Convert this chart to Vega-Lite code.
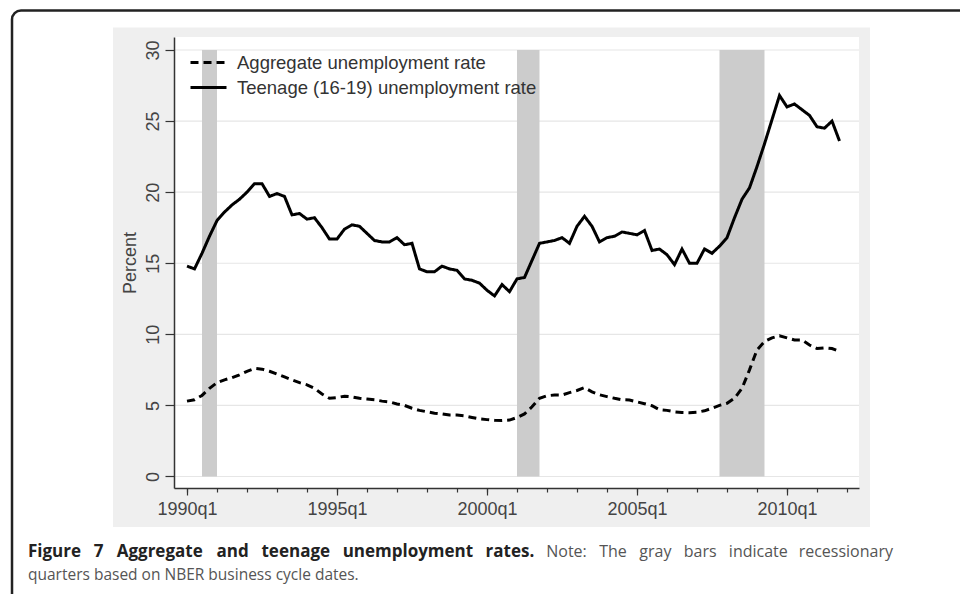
{
  "$schema": "https://vega.github.io/schema/vega-lite/v6.json",
  "width": 685,
  "height": 451,
  "autosize": {"type": "none"},
  "padding": {"left": 174, "top": 37, "right": 101, "bottom": 106},
  "background": "white",
  "config": {"view": {"stroke": null}, "font": "Liberation Sans"},
  "resolve": {"axis": {"x": "independent"}},
  "datasets": {
    "rates": [
      {"t": 1990.0, "aggregate": 5.3, "teenage": 14.8},
      {"t": 1990.25, "aggregate": 5.4, "teenage": 14.6},
      {"t": 1990.5, "aggregate": 5.7, "teenage": 15.7},
      {"t": 1990.75, "aggregate": 6.2, "teenage": 16.9},
      {"t": 1991.0, "aggregate": 6.6, "teenage": 18.0},
      {"t": 1991.25, "aggregate": 6.8, "teenage": 18.6},
      {"t": 1991.5, "aggregate": 6.95, "teenage": 19.1},
      {"t": 1991.75, "aggregate": 7.15, "teenage": 19.5},
      {"t": 1992.0, "aggregate": 7.4, "teenage": 20.0},
      {"t": 1992.25, "aggregate": 7.6, "teenage": 20.6},
      {"t": 1992.5, "aggregate": 7.55, "teenage": 20.6},
      {"t": 1992.75, "aggregate": 7.4, "teenage": 19.7},
      {"t": 1993.0, "aggregate": 7.2, "teenage": 19.9},
      {"t": 1993.25, "aggregate": 7.0, "teenage": 19.7},
      {"t": 1993.5, "aggregate": 6.8, "teenage": 18.4},
      {"t": 1993.75, "aggregate": 6.6, "teenage": 18.5},
      {"t": 1994.0, "aggregate": 6.45, "teenage": 18.1},
      {"t": 1994.25, "aggregate": 6.2, "teenage": 18.2},
      {"t": 1994.5, "aggregate": 5.8, "teenage": 17.5},
      {"t": 1994.75, "aggregate": 5.5, "teenage": 16.7},
      {"t": 1995.0, "aggregate": 5.55, "teenage": 16.7},
      {"t": 1995.25, "aggregate": 5.65, "teenage": 17.4},
      {"t": 1995.5, "aggregate": 5.6, "teenage": 17.7},
      {"t": 1995.75, "aggregate": 5.5, "teenage": 17.6},
      {"t": 1996.0, "aggregate": 5.45, "teenage": 17.1},
      {"t": 1996.25, "aggregate": 5.4, "teenage": 16.6},
      {"t": 1996.5, "aggregate": 5.3, "teenage": 16.5},
      {"t": 1996.75, "aggregate": 5.25, "teenage": 16.5},
      {"t": 1997.0, "aggregate": 5.1, "teenage": 16.8},
      {"t": 1997.25, "aggregate": 5.0, "teenage": 16.3},
      {"t": 1997.5, "aggregate": 4.8, "teenage": 16.4},
      {"t": 1997.75, "aggregate": 4.65, "teenage": 14.6},
      {"t": 1998.0, "aggregate": 4.55, "teenage": 14.4},
      {"t": 1998.25, "aggregate": 4.45, "teenage": 14.4},
      {"t": 1998.5, "aggregate": 4.4, "teenage": 14.8},
      {"t": 1998.75, "aggregate": 4.32, "teenage": 14.6},
      {"t": 1999.0, "aggregate": 4.32, "teenage": 14.5},
      {"t": 1999.25, "aggregate": 4.26, "teenage": 13.9},
      {"t": 1999.5, "aggregate": 4.15, "teenage": 13.8},
      {"t": 1999.75, "aggregate": 4.05, "teenage": 13.6},
      {"t": 2000.0, "aggregate": 4.0, "teenage": 13.1},
      {"t": 2000.25, "aggregate": 3.95, "teenage": 12.7},
      {"t": 2000.5, "aggregate": 3.93, "teenage": 13.5},
      {"t": 2000.75, "aggregate": 3.97, "teenage": 13.0},
      {"t": 2001.0, "aggregate": 4.15, "teenage": 13.9},
      {"t": 2001.25, "aggregate": 4.4, "teenage": 14.0},
      {"t": 2001.5, "aggregate": 4.9, "teenage": 15.2},
      {"t": 2001.75, "aggregate": 5.5, "teenage": 16.4},
      {"t": 2002.0, "aggregate": 5.68, "teenage": 16.5},
      {"t": 2002.25, "aggregate": 5.73, "teenage": 16.6},
      {"t": 2002.5, "aggregate": 5.73, "teenage": 16.8},
      {"t": 2002.75, "aggregate": 5.9, "teenage": 16.4},
      {"t": 2003.0, "aggregate": 6.05, "teenage": 17.6},
      {"t": 2003.25, "aggregate": 6.25, "teenage": 18.3},
      {"t": 2003.5, "aggregate": 5.95, "teenage": 17.6},
      {"t": 2003.75, "aggregate": 5.75, "teenage": 16.5},
      {"t": 2004.0, "aggregate": 5.62, "teenage": 16.8},
      {"t": 2004.25, "aggregate": 5.5, "teenage": 16.9},
      {"t": 2004.5, "aggregate": 5.4, "teenage": 17.2},
      {"t": 2004.75, "aggregate": 5.38, "teenage": 17.1},
      {"t": 2005.0, "aggregate": 5.25, "teenage": 17.0},
      {"t": 2005.25, "aggregate": 5.12, "teenage": 17.3},
      {"t": 2005.5, "aggregate": 4.98, "teenage": 15.9},
      {"t": 2005.75, "aggregate": 4.7, "teenage": 16.0},
      {"t": 2006.0, "aggregate": 4.65, "teenage": 15.6},
      {"t": 2006.25, "aggregate": 4.55, "teenage": 14.9},
      {"t": 2006.5, "aggregate": 4.5, "teenage": 16.0},
      {"t": 2006.75, "aggregate": 4.49, "teenage": 15.0},
      {"t": 2007.0, "aggregate": 4.52, "teenage": 15.0},
      {"t": 2007.25, "aggregate": 4.62, "teenage": 16.0},
      {"t": 2007.5, "aggregate": 4.8, "teenage": 15.7},
      {"t": 2007.75, "aggregate": 5.0, "teenage": 16.2},
      {"t": 2008.0, "aggregate": 5.15, "teenage": 16.8},
      {"t": 2008.25, "aggregate": 5.5, "teenage": 18.2},
      {"t": 2008.5, "aggregate": 6.2, "teenage": 19.5},
      {"t": 2008.75, "aggregate": 7.5, "teenage": 20.3},
      {"t": 2009.0, "aggregate": 8.9, "teenage": 21.8},
      {"t": 2009.25, "aggregate": 9.5, "teenage": 23.4},
      {"t": 2009.5, "aggregate": 9.75, "teenage": 25.1},
      {"t": 2009.75, "aggregate": 9.9, "teenage": 26.8},
      {"t": 2010.0, "aggregate": 9.75, "teenage": 26.0},
      {"t": 2010.25, "aggregate": 9.6, "teenage": 26.2},
      {"t": 2010.5, "aggregate": 9.6, "teenage": 25.8},
      {"t": 2010.75, "aggregate": 9.25, "teenage": 25.4},
      {"t": 2011.0, "aggregate": 9.0, "teenage": 24.6},
      {"t": 2011.25, "aggregate": 9.05, "teenage": 24.5},
      {"t": 2011.5, "aggregate": 9.0, "teenage": 25.0},
      {"t": 2011.75, "aggregate": 8.8, "teenage": 23.6}
    ],
    "recessions": [
      {"start": 1990.5, "end": 1991.0},
      {"start": 2001.0, "end": 2001.75},
      {"start": 2007.75, "end": 2009.25}
    ],
    "gridlines": [{"y": 0}, {"y": 5}, {"y": 10}, {"y": 15}, {"y": 20}, {"y": 25}, {"y": 30}],
    "one": [{"k": 1}]
  },
  "layer": [
    {
      "data": {"name": "one"},
      "mark": {"type": "rect", "fill": "#EFEFEF", "stroke": null},
      "encoding": {
        "x": {
          "datum": 1987.533, "type": "quantitative",
          "scale": {"domain": [1989.5667, 2012.4], "nice": false, "zero": false},
          "axis": {
            "orient": "bottom",
            "title": null,
            "values": [1990, 1995, 2000, 2005, 2010],
            "labelExpr": "datum.value + 'q1'",
            "tickSize": 7,
            "grid": false,
            "labelFont": "Liberation Sans",
            "labelFontSize": 18,
            "labelColor": "#444444",
            "labelPadding": 5,
            "labelOverlap": false,
            "labelFlush": false,
            "domainColor": "#333333",
            "domainWidth": 1.5,
            "tickColor": "#333333",
            "tickWidth": 1.2,
            "zindex": 1
          }
        },
        "x2": {"datum": 2012.767},
        "y": {
          "datum": 31.585, "type": "quantitative",
          "scale": {"domain": [-0.81, 30.914], "nice": false, "zero": false},
          "axis": {
            "title": "Percent",
            "values": [0, 5, 10, 15, 20, 25, 30],
            "grid": false,
            "labelAngle": -90,
            "labelAlign": "center",
            "labelBaseline": "alphabetic",
            "labelFont": "Liberation Sans",
            "labelFontSize": 18,
            "labelColor": "#444444",
            "labelPadding": 7,
            "labelOverlap": false,
            "labelFlush": false,
            "tickSize": 9,
            "tickColor": "#333333",
            "tickWidth": 1.2,
            "domainColor": "#333333",
            "domainWidth": 1.5,
            "titleFont": "Liberation Sans",
            "titleFontSize": 18,
            "titleFontWeight": "normal",
            "titleColor": "#444444",
            "titlePadding": 5,
            "zindex": 1
          }
        },
        "y2": {"datum": -3.556}
      }
    },
    {
      "data": {"name": "one"},
      "mark": {"type": "rect", "fill": "white", "stroke": null},
      "encoding": {
        "x": {
          "datum": 1989.5667, "type": "quantitative",
          "axis": {
            "orient": "bottom",
            "title": null,
            "values": [1990, 1991, 1992, 1993, 1994, 1995, 1996, 1997, 1998, 1999, 2000, 2001, 2002, 2003, 2004, 2005, 2006, 2007, 2008, 2009, 2010, 2011, 2012],
            "labels": false,
            "domain": false,
            "grid": false,
            "tickSize": 4,
            "tickColor": "#333333",
            "tickWidth": 1.2,
            "zindex": 1
          }
        },
        "x2": {"datum": 2012.4},
        "y": {"datum": 30.914, "type": "quantitative"},
        "y2": {"datum": -0.81}
      }
    },
    {
      "data": {"name": "gridlines"},
      "mark": {"type": "rule", "color": "#E6E6E6", "strokeWidth": 1.2},
      "encoding": {
        "y": {"field": "y", "type": "quantitative"}
      }
    },
    {
      "data": {"name": "recessions"},
      "mark": {"type": "rect", "fill": "#CCCCCC", "stroke": null},
      "encoding": {
        "x": {"field": "start", "type": "quantitative", "axis": null},
        "x2": {"field": "end"},
        "y": {"datum": 0, "type": "quantitative"},
        "y2": {"datum": 30}
      }
    },
    {
      "data": {"name": "rates"},
      "transform": [{"fold": ["aggregate", "teenage"], "as": ["series", "value"]}],
      "mark": {"type": "line", "color": "black", "strokeWidth": 3, "strokeCap": "butt"},
      "encoding": {
        "x": {"field": "t", "type": "quantitative", "axis": null},
        "y": {"field": "value", "type": "quantitative"},
        "strokeDash": {
          "field": "series", "type": "nominal",
          "scale": {"domain": ["aggregate", "teenage"], "range": [[8, 5], [1, 0]]},
          "legend": {
            "orient": "none",
            "legendX": 15,
            "legendY": 13,
            "title": null,
            "labelExpr": "datum.label === 'aggregate' ? 'Aggregate unemployment rate' : 'Teenage (16-19) unemployment rate'",
            "symbolType": "stroke",
            "symbolSize": 1296,
            "symbolStrokeWidth": 3,
            "symbolStrokeColor": "black",
            "labelFont": "Liberation Sans",
            "labelFontSize": 18.5,
            "labelColor": "#333333",
            "labelOffset": 9,
            "labelLimit": 0,
            "clipHeight": 25,
            "rowPadding": 0
          }
        }
      }
    },
    {
      "data": {"name": "one"},
      "mark": {"type": "rect", "fillOpacity": 0, "stroke": "#222222", "strokeWidth": 2.5, "cornerRadius": 9},
      "encoding": {
        "x": {"datum": 1984.167, "type": "quantitative", "axis": null},
        "x2": {"datum": 2040},
        "y": {"datum": 32.78, "type": "quantitative"},
        "y2": {"datum": -40}
      }
    },
    {"data": {"name": "one"}, "mark": {"type": "text", "text": "Figure", "font": "Open Sans", "fontSize": 17, "fontWeight": "bold", "color": "#222222", "align": "left", "baseline": "alphabetic"},
     "encoding": {"x": {"datum": 1984.7, "type": "quantitative", "axis": null}, "y": {"datum": -5.662, "type": "quantitative"}}},
    {"data": {"name": "one"}, "mark": {"type": "text", "text": "7", "font": "Open Sans", "fontSize": 17, "fontWeight": "bold", "color": "#222222", "align": "left", "baseline": "alphabetic"},
     "encoding": {"x": {"datum": 1986.892, "type": "quantitative", "axis": null}, "y": {"datum": -5.662, "type": "quantitative"}}},
    {"data": {"name": "one"}, "mark": {"type": "text", "text": "Aggregate", "font": "Open Sans", "fontSize": 17, "fontWeight": "bold", "color": "#222222", "align": "left", "baseline": "alphabetic"},
     "encoding": {"x": {"datum": 1987.657, "type": "quantitative", "axis": null}, "y": {"datum": -5.662, "type": "quantitative"}}},
    {"data": {"name": "one"}, "mark": {"type": "text", "text": "and", "font": "Open Sans", "fontSize": 17, "fontWeight": "bold", "color": "#222222", "align": "left", "baseline": "alphabetic"},
     "encoding": {"x": {"datum": 1990.982, "type": "quantitative", "axis": null}, "y": {"datum": -5.662, "type": "quantitative"}}},
    {"data": {"name": "one"}, "mark": {"type": "text", "text": "teenage", "font": "Open Sans", "fontSize": 17, "fontWeight": "bold", "color": "#222222", "align": "left", "baseline": "alphabetic"},
     "encoding": {"x": {"datum": 1992.483, "type": "quantitative", "axis": null}, "y": {"datum": -5.662, "type": "quantitative"}}},
    {"data": {"name": "one"}, "mark": {"type": "text", "text": "unemployment", "font": "Open Sans", "fontSize": 17, "fontWeight": "bold", "color": "#222222", "align": "left", "baseline": "alphabetic"},
     "encoding": {"x": {"datum": 1995.188, "type": "quantitative", "axis": null}, "y": {"datum": -5.662, "type": "quantitative"}}},
    {"data": {"name": "one"}, "mark": {"type": "text", "text": "rates.", "font": "Open Sans", "fontSize": 17, "fontWeight": "bold", "color": "#222222", "align": "left", "baseline": "alphabetic"},
     "encoding": {"x": {"datum": 1999.953, "type": "quantitative", "axis": null}, "y": {"datum": -5.662, "type": "quantitative"}}},
    {"data": {"name": "one"}, "mark": {"type": "text", "text": "Note:", "font": "Open Sans", "fontSize": 16, "color": "#555555", "align": "left", "baseline": "alphabetic"},
     "encoding": {"x": {"datum": 2001.975, "type": "quantitative", "axis": null}, "y": {"datum": -5.662, "type": "quantitative"}}},
    {"data": {"name": "one"}, "mark": {"type": "text", "text": "The", "font": "Open Sans", "fontSize": 16, "color": "#555555", "align": "left", "baseline": "alphabetic"},
     "encoding": {"x": {"datum": 2003.74, "type": "quantitative", "axis": null}, "y": {"datum": -5.662, "type": "quantitative"}}},
    {"data": {"name": "one"}, "mark": {"type": "text", "text": "gray", "font": "Open Sans", "fontSize": 16, "color": "#555555", "align": "left", "baseline": "alphabetic"},
     "encoding": {"x": {"datum": 2005.078, "type": "quantitative", "axis": null}, "y": {"datum": -5.662, "type": "quantitative"}}},
    {"data": {"name": "one"}, "mark": {"type": "text", "text": "bars", "font": "Open Sans", "fontSize": 16, "color": "#555555", "align": "left", "baseline": "alphabetic"},
     "encoding": {"x": {"datum": 2006.557, "type": "quantitative", "axis": null}, "y": {"datum": -5.662, "type": "quantitative"}}},
    {"data": {"name": "one"}, "mark": {"type": "text", "text": "indicate", "font": "Open Sans", "fontSize": 16, "color": "#555555", "align": "left", "baseline": "alphabetic"},
     "encoding": {"x": {"datum": 2008.062, "type": "quantitative", "axis": null}, "y": {"datum": -5.662, "type": "quantitative"}}},
    {"data": {"name": "one"}, "mark": {"type": "text", "text": "recessionary", "font": "Open Sans", "fontSize": 16, "color": "#555555", "align": "right", "baseline": "alphabetic"},
     "encoding": {"x": {"datum": 2013.533, "type": "quantitative", "axis": null}, "y": {"datum": -5.662, "type": "quantitative"}}},
    {"data": {"name": "one"}, "mark": {"type": "text", "text": "quarters based on NBER business cycle dates.", "font": "Open Sans", "fontSize": 15.5, "color": "#555555", "align": "left", "baseline": "alphabetic"},
     "encoding": {"x": {"datum": 1984.7, "type": "quantitative", "axis": null}, "y": {"datum": -7.28, "type": "quantitative"}}}
  ]
}
